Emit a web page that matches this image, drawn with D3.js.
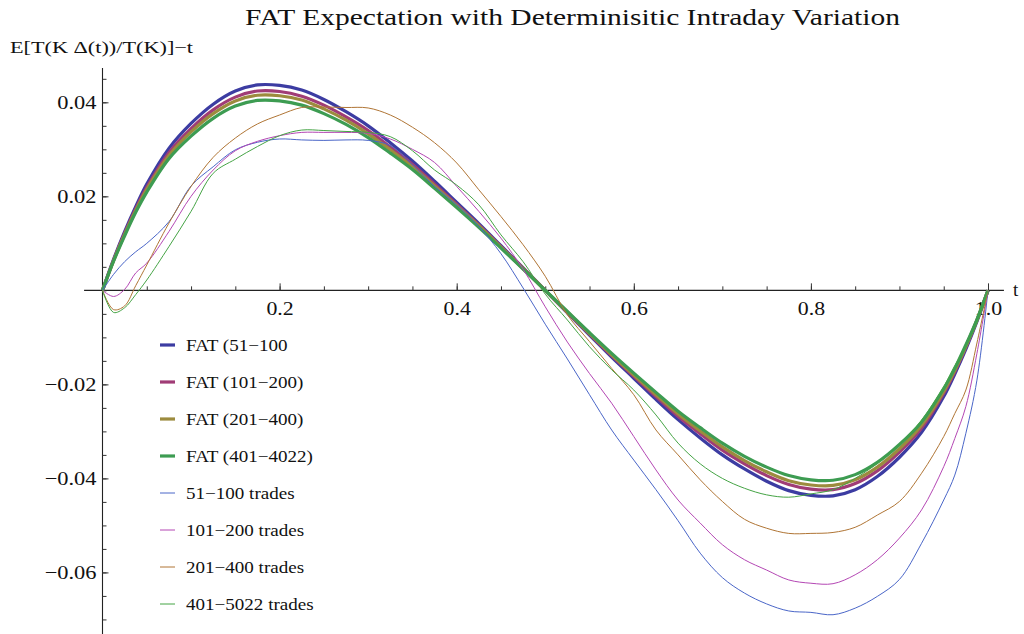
<!DOCTYPE html>
<html>
<head>
<meta charset="utf-8">
<script src="https://cdn.jsdelivr.net/npm/d3@7"></script>
<style>
  body { margin: 0; background: #fff; }
  svg text { font-family: "Liberation Serif", "DejaVu Serif", serif; fill: #111; }
</style>
</head>
<body>
<div id="graph"></div>
<script>
(function() {

  // sample points in t
  const tGrid = [0, 0.0125, 0.025, 0.0375, 0.05, 0.075, 0.1, 0.125, 0.15, 0.175, 0.2, 0.225, 0.25, 0.275, 0.3,
    0.325, 0.35, 0.375, 0.4, 0.425, 0.45, 0.475, 0.5, 0.525, 0.55, 0.575, 0.6, 0.625, 0.65, 0.675, 0.7,
    0.725, 0.75, 0.775, 0.8, 0.825, 0.85, 0.875, 0.9, 0.925, 0.95, 0.9625, 0.975, 0.9875, 1]

  // FAT expectation curves (thick)
  const fat51 = [0, 0.0066, 0.0125, 0.0178, 0.0226, 0.0302, 0.0355, 0.0396, 0.0424, 0.0437, 0.0436, 0.0426, 0.0406, 0.0380, 0.0350,
    0.0314, 0.0275, 0.0232, 0.0187, 0.0142, 0.0095, 0.0048, 0,
    -0.0048, -0.0095, -0.0142, -0.0187, -0.0232, -0.0275, -0.0314, -0.0350, -0.0380, -0.0406, -0.0426, -0.0436, -0.0437,
    -0.0424, -0.0396, -0.0355, -0.0302, -0.0226, -0.0178, -0.0125, -0.0066, 0]
  const fat101 = [0, 0.0064, 0.0121, 0.0173, 0.0219, 0.0293, 0.0344, 0.0384, 0.0411, 0.0424, 0.0423, 0.0413, 0.0394, 0.0369, 0.0340,
    0.0305, 0.0268, 0.0226, 0.0183, 0.0139, 0.0093, 0.0047, 0,
    -0.0047, -0.0093, -0.0139, -0.0183, -0.0226, -0.0268, -0.0305, -0.0340, -0.0369, -0.0394, -0.0413, -0.0423, -0.0424,
    -0.0411, -0.0384, -0.0344, -0.0293, -0.0219, -0.0173, -0.0121, -0.0064, 0]
  const fat201 = [0, 0.0063, 0.0119, 0.0170, 0.0215, 0.0287, 0.0337, 0.0376, 0.0403, 0.0415, 0.0414, 0.0405, 0.0386, 0.0362, 0.0333,
    0.0299, 0.0263, 0.0222, 0.0180, 0.0137, 0.0092, 0.0046, 0,
    -0.0046, -0.0092, -0.0137, -0.0180, -0.0222, -0.0263, -0.0299, -0.0333, -0.0362, -0.0386, -0.0405, -0.0414, -0.0415,
    -0.0403, -0.0376, -0.0337, -0.0287, -0.0215, -0.0170, -0.0119, -0.0063, 0]
  const fat401 = [0, 0.0062, 0.0116, 0.0166, 0.0209, 0.0280, 0.0328, 0.0366, 0.0392, 0.0404, 0.0403, 0.0394, 0.0376, 0.0353, 0.0325,
    0.0292, 0.0257, 0.0217, 0.0176, 0.0134, 0.0090, 0.0045, 0,
    -0.0045, -0.0090, -0.0134, -0.0176, -0.0217, -0.0257, -0.0292, -0.0325, -0.0353, -0.0376, -0.0394, -0.0403, -0.0404,
    -0.0392, -0.0366, -0.0328, -0.0280, -0.0209, -0.0166, -0.0116, -0.0062, 0]

  // empirical curves (thin)
  const trades51 = [0, 0.0034, 0.0061, 0.0082, 0.0100, 0.0146, 0.0222, 0.0263, 0.0299, 0.0315, 0.0322, 0.0320, 0.0319, 0.0320, 0.0319,
    0.0308, 0.0267, 0.0221, 0.0182, 0.0136, 0.0078, 0.0005, -0.0072,
    -0.0146, -0.0222, -0.0297, -0.0361, -0.0424, -0.0490, -0.0559, -0.0611, -0.0644, -0.0667, -0.0682, -0.0685, -0.0690,
    -0.0676, -0.0651, -0.0615, -0.0538, -0.0446, -0.0393, -0.0304, -0.0191, 0]
  const trades101 = [0, -0.0013, 0.0002, 0.0037, 0.0058, 0.0125, 0.0200, 0.0256, 0.0297, 0.0317, 0.0329, 0.0336, 0.0336, 0.0336, 0.0334,
    0.0322, 0.0300, 0.0272, 0.0221, 0.0168, 0.0111, 0.0045, -0.0035,
    -0.0110, -0.0177, -0.0240, -0.0311, -0.0382, -0.0446, -0.0495, -0.0541, -0.0573, -0.0595, -0.0616, -0.0623, -0.0624,
    -0.0605, -0.0573, -0.0527, -0.0467, -0.0375, -0.0315, -0.0247, -0.0134, 0]
  const trades201 = [0, -0.0041, -0.0033, 0.0010, 0.0054, 0.0143, 0.0221, 0.0283, 0.0324, 0.0354, 0.0373, 0.0389, 0.0390, 0.0389, 0.0388,
    0.0373, 0.0347, 0.0314, 0.0271, 0.0214, 0.0157, 0.0097, 0.0030,
    -0.0052, -0.0109, -0.0166, -0.0222, -0.0297, -0.0350, -0.0403, -0.0449, -0.0487, -0.0506, -0.0517, -0.0517, -0.0515,
    -0.0504, -0.0478, -0.0449, -0.0389, -0.0311, -0.0262, -0.0212, -0.0112, 0]
  const trades401 = [0, -0.0047, -0.0037, -0.0009, 0.0022, 0.0093, 0.0168, 0.0249, 0.0279, 0.0306, 0.0329, 0.0341, 0.0340, 0.0338, 0.0336,
    0.0327, 0.0297, 0.0256, 0.0224, 0.0182, 0.0118, 0.0061, -0.0008,
    -0.0063, -0.0120, -0.0169, -0.0212, -0.0265, -0.0325, -0.0369, -0.0400, -0.0421, -0.0435, -0.0440, -0.0433, -0.0424,
    -0.0400, -0.0368, -0.0329, -0.0276, -0.0205, -0.0160, -0.0120, -0.0070, 0]

  const seriesNames = ["FAT (51\u2212100", "FAT (101\u2212200)", "FAT (201\u2212400)", "FAT (401\u22124022)",
    "51\u2212100 trades", "101\u2212200 trades", "201\u2212400 trades", "401\u22125022 trades"]
  const xTickValues = [0.2, 0.4, 0.6, 0.8, 1.0]
  const yTickValues = [0.04, 0.02, -0.02, -0.04, -0.06]

  const series = [
    { values: fat51, color: "#3c3ca2", width: 3.2 },
    { values: fat101, color: "#a03c76", width: 3.2 },
    { values: fat201, color: "#9c8b3e", width: 3.2 },
    { values: fat401, color: "#3d9c52", width: 3.2 },
    { values: trades51, color: "#4a66c8", width: 1 },
    { values: trades101, color: "#b447b4", width: 1 },
    { values: trades201, color: "#b07535", width: 1 },
    { values: trades401, color: "#45a445", width: 1 }
  ]

  const width = 1024
  const height = 634

  const svg = d3.select("#graph")
    .append("svg")
      .attr("width", width)
      .attr("height", height)

  const x = d3.scaleLinear().domain([0, 1]).range([102.5, 988])
  const y = d3.scaleLinear().domain([-0.0731, 0.0473]).range([634, 68])

  // stretch text horizontally to mimic the wide glyphs of the original
  function stretch(sel, k) {
    sel.each(function() {
      const w = this.getComputedTextLength()
      d3.select(this).attr("textLength", w * k).attr("lengthAdjust", "spacingAndGlyphs")
    })
  }

  // axis lines
  svg.append("line")
    .attr("x1", x(-0.0208)).attr("x2", x(1.018))
    .attr("y1", y(0)).attr("y2", y(0))
    .attr("stroke", "#222").attr("stroke-width", 1.1)
  svg.append("line")
    .attr("x1", x(0)).attr("x2", x(0))
    .attr("y1", y(0.0473)).attr("y2", y(-0.0731))
    .attr("stroke", "#222").attr("stroke-width", 1.1)

  // x axis: minor ticks, then major ticks with labels
  const xMinor = svg.append("g")
    .attr("transform", "translate(0," + y(0) + ")")
    .call(d3.axisBottom(x).tickValues(d3.range(1, 20).map(i => i * 0.05)).tickSize(-4).tickFormat(""))
  const xMajor = svg.append("g")
    .attr("transform", "translate(0," + y(0) + ")")
    .call(d3.axisBottom(x).tickValues(xTickValues).tickSize(-7).tickPadding(11).tickFormat(d3.format(".1f")))

  // y axis
  const yMinor = svg.append("g")
    .attr("transform", "translate(" + x(0) + ",0)")
    .call(d3.axisLeft(y).tickValues(d3.range(-14, 10).map(i => i * 0.005)).tickSize(-4).tickFormat(""))
  const yMajor = svg.append("g")
    .attr("transform", "translate(" + x(0) + ",0)")
    .call(d3.axisLeft(y).tickValues(yTickValues).tickSize(-6).tickPadding(6).tickFormat(d3.format(".2f")))

  ;[xMinor, xMajor, yMinor, yMajor].forEach(g => {
    g.select(".domain").remove()
    g.selectAll(".tick line").attr("stroke", "#333")
  })
  xMajor.selectAll("text").attr("font-size", 19).attr("font-family", "Liberation Serif").attr("fill", "#111")
  yMajor.selectAll("text").attr("font-size", 19).attr("font-family", "Liberation Serif").attr("fill", "#111")
  stretch(xMajor.selectAll("text"), 1.15)
  stretch(yMajor.selectAll("text"), 1.18)

  // curves
  const line = d3.line()
    .x((d, i) => x(tGrid[i]))
    .y(d => y(d))
    .curve(d3.curveCatmullRom.alpha(0.5))

  svg.append("g")
    .selectAll("path")
    .data(series)
    .enter().append("path")
      .attr("fill", "none")
      .attr("stroke", d => d.color)
      .attr("stroke-width", d => d.width)
      .attr("stroke-linejoin", "round")
      .attr("d", d => line(d.values))

  // title and axis labels
  svg.append("text")
    .attr("x", 572.5).attr("y", 25)
    .attr("text-anchor", "middle")
    .attr("font-size", 24)
    .attr("textLength", 655).attr("lengthAdjust", "spacingAndGlyphs")
    .text("FAT Expectation with Determinisitic Intraday Variation")

  svg.append("text")
    .attr("x", 10).attr("y", 53)
    .attr("font-size", 17)
    .attr("textLength", 183).attr("lengthAdjust", "spacingAndGlyphs")
    .text("E[T(K \u0394(t))/T(K)]\u2212t")

  svg.append("text")
    .attr("x", 1013).attr("y", 296)
    .attr("font-size", 19)
    .text("t")

  // legend
  const legend = svg.append("g")
    .selectAll("g")
    .data(series)
    .enter().append("g")
      .attr("transform", (d, i) => "translate(160," + (345 + i * 37) + ")")

  legend.append("line")
    .attr("x1", 0).attr("x2", 15)
    .attr("stroke", d => d.color)
    .attr("stroke-width", d => d.width)

  const legendText = legend.append("text")
    .attr("x", 26).attr("dy", "0.35em")
    .attr("font-size", 17)
    .text((d, i) => seriesNames[i])
  stretch(legendText, 1.12)

})();
</script>
</body>
</html>
